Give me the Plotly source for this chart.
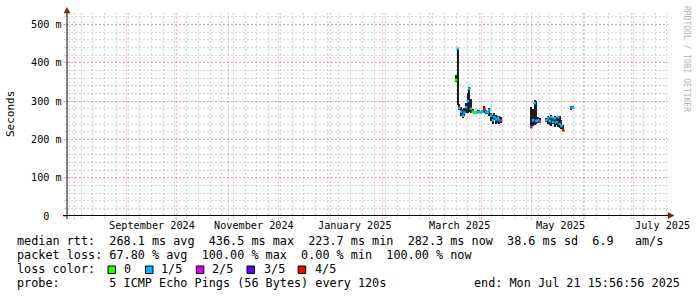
import plotly.graph_objects as go
import pandas as pd

# ---------------- data ----------------
dates = [
    "2025-03-17", "2025-03-18", "2025-03-19", "2025-03-20", "2025-03-21", "2025-03-22",
    "2025-03-23", "2025-03-24", "2025-03-25", "2025-03-26", "2025-03-27", "2025-03-28",
    "2025-03-29", "2025-03-30", "2025-03-31", "2025-04-01", "2025-04-02", "2025-04-03",
    "2025-04-04", "2025-04-05", "2025-04-06", "2025-04-07", "2025-04-08", "2025-04-09",
    "2025-04-10", "2025-04-11", "2025-04-12", "2025-04-13",
    "2025-05-01", "2025-05-02", "2025-05-03", "2025-05-04", "2025-05-05", "2025-05-06",
    "2025-05-10", "2025-05-11", "2025-05-12", "2025-05-13", "2025-05-14", "2025-05-15",
    "2025-05-16", "2025-05-17", "2025-05-18", "2025-05-19", "2025-05-20",
    "2025-05-25", "2025-05-26",
]
rtt_low_ms = [
    350, 290, 276, 262, 255, 262, 268, 270, 272, 268, 268, 268,
    268, 268, 268, 268, 268, 268, 266, 266, 262, 248, 240, 250,
    240, 244, 240, 242,
    230, 235, 237, 240, 242, 243,
    245, 240, 238, 235, 240, 232, 238, 232, 230, 228, 222,
    278, 279,
]
rtt_median_ms = [
    355, 436.5, 282, 272, 262, 270, 284, 300, 332, 280, 272, 270,
    270, 271, 272, 271, 272, 280, 272, 270, 276, 262, 250, 258,
    252, 256, 250, 250,
    232, 250, 295, 248, 250, 247,
    250, 255, 248, 258, 245, 255, 245, 258, 240, 235, 223.7,
    283, 282.3,
]
rtt_high_ms = [
    368, 437, 292, 285, 280, 282, 295, 322, 336, 305, 280, 273,
    273, 276, 277, 275, 278, 286, 276, 273, 282, 270, 264, 268,
    265, 262, 262, 258,
    285, 280, 304, 300, 258, 255,
    255, 262, 258, 265, 255, 262, 258, 262, 262, 250, 238,
    287, 286,
]
loss_count = [
    0, 1, 1, 1, 1, 1, 1, 1, 1, 1, 0, 0,
    0, 1, 1, 1, 1, 4, 1, 1, 1, 1, 1, 1,
    1, 1, 1, 2,
    2, 1, 1, 1, 1, 2,
    1, 1, 1, 1, 1, 1, 1, 1, 1, 1, 4,
    1, 1,
]
loss_labels = ["0", "1/5", "2/5", "3/5", "4/5"]
loss_colors = ["#26ff00", "#00b8ff", "#dd00ff", "#5e00ff", "#ff0000"]

y_tick_vals = [0, 0.1, 0.2, 0.3, 0.4, 0.5]
y_tick_text = ["  0", "100 m", "200 m", "300 m", "400 m", "500 m"]

x_label_text = ["September 2024", "November 2024", "January 2025", "March 2025", "May 2025", "July 2025"]
x_label_pos = ["2024-09-16 10:00", "2024-11-16 05:00", "2025-01-15 16:00",
               "2025-03-18 22:00", "2025-05-18 07:00", "2025-07-18 03:00"]

x_start = "2024-07-27 13:00:00"
x_end = "2025-07-21 15:56:56"
month_starts = [d.strftime("%Y-%m-%d") for d in pd.date_range("2024-08-01", "2025-07-01", freq="MS")]
week_starts = [d.strftime("%Y-%m-%d") for d in pd.date_range("2024-07-29", "2025-07-21", freq="7D")]

legend_line1 = "median rtt:  268.1 ms avg  436.5 ms max  223.7 ms min  282.3 ms now  38.6 ms sd  6.9   am/s"
legend_line2 = "packet loss: 67.80 % avg  100.00 % max  0.00 % min  100.00 % now"
legend_line3 = "loss color:"
legend_line4a = "probe:       5 ICMP Echo Pings (56 Bytes) every 120s"
legend_line4b = "end: Mon Jul 21 15:56:56 2025"

# ---------------- geometry helpers ----------------
W, H = 697, 297
ML, MR, MT, MB = 67, 29, 13, 81
PW, PH = W - ML - MR, H - MT - MB


def px(x):
    return (x - ML) / PW


def py(y):
    return (H - MB - y) / PH


def nb(s):
    return s.replace(" ", "\u00a0")


MONO = "DejaVu Sans Mono"
RED_GRID = "rgba(225,90,90,0.42)"
GRAY_GRID = "rgba(150,150,150,0.40)"
GDASH = "2px,2px"

fig = go.Figure()

# smoke (min..max spread)
fig.add_trace(go.Bar(
    x=dates,
    base=[l / 1000 for l in rtt_low_ms],
    y=[(h - l) / 1000 for h, l in zip(rtt_high_ms, rtt_low_ms)],
    width=86400000 * 0.8,
    marker=dict(color="#1c1c1c", line=dict(width=0)),
    hoverinfo="skip",
))

# median, coloured by loss
fig.add_trace(go.Scatter(
    x=dates,
    y=[m / 1000 for m in rtt_median_ms],
    mode="markers",
    marker=dict(symbol="square", size=2.6, color=[loss_colors[c] for c in loss_count], line=dict(width=0)),
    hoverinfo="skip",
))

annotations = []
# y tick labels
for v, t in zip(y_tick_vals, y_tick_text):
    annotations.append(dict(x=px(29), xref="paper", y=v, yref="y", text=nb(t), showarrow=False,
                            xanchor="left", yanchor="middle", font=dict(family=MONO, size=10.2, color="#000")))
# x labels
for d, t in zip(x_label_pos, x_label_text):
    annotations.append(dict(x=d, xref="x", y=py(225), yref="paper", text=nb(t), showarrow=False,
                            xanchor="center", yanchor="middle", font=dict(family=MONO, size=10.2, color="#000")))
# axis title
annotations.append(dict(x=px(11), xref="paper", y=py(114), yref="paper", text="Seconds", textangle=-90,
                        showarrow=False, xanchor="center", yanchor="middle",
                        font=dict(family=MONO, size=11, color="#000")))
# watermark
annotations.append(dict(x=px(686), xref="paper", y=py(59), yref="paper", text=nb("RRDTOOL / TOBI OETIKER"),
                        textangle=90, showarrow=False, xanchor="center", yanchor="middle",
                        font=dict(family=MONO, size=8, color="#b4b4b4")))
# legend lines
LF = dict(family=MONO, size=11.8, color="#000")
for txt, x0, y0 in [(legend_line1, 15, 241), (legend_line2, 15, 255), (legend_line3, 15, 269),
                    (legend_line4a, 15, 283)]:
    annotations.append(dict(x=px(x0), xref="paper", y=py(y0), yref="paper", text=nb(txt), showarrow=False,
                            xanchor="left", yanchor="middle", font=LF))
annotations.append(dict(x=px(682), xref="paper", y=py(283), yref="paper", text=nb(legend_line4b),
                        showarrow=False, xanchor="right", yanchor="middle", font=LF))
box_x = [108, 145.5, 196.3, 247, 298.2]
lab_x = [122.3, 159.2, 210.4, 261.6, 312.8]
shapes = []
for bx, lx, lab, col in zip(box_x, lab_x, loss_labels, loss_colors):
    shapes.append(dict(type="rect", xref="paper", yref="paper", x0=px(bx), x1=px(bx + 7.5),
                       y0=py(273.5), y1=py(266), fillcolor=col, line=dict(color="#000", width=1)))
    annotations.append(dict(x=px(lx), xref="paper", y=py(269), yref="paper", text=lab, showarrow=False,
                            xanchor="left", yanchor="middle", font=LF))

# axis lines and arrows
shapes.append(dict(type="line", xref="paper", yref="paper", x0=px(63), x1=px(669), y0=py(215.5), y1=py(215.5),
                   line=dict(color="#000", width=1)))
shapes.append(dict(type="line", xref="paper", yref="paper", x0=px(67), x1=px(67), y0=py(219), y1=py(11),
                   line=dict(color="#000", width=1)))
shapes.append(dict(type="path", xref="paper", yref="paper",
                   path=f"M {px(668)} {py(212.5)} L {px(674)} {py(215.5)} L {px(668)} {py(218.5)} Z",
                   fillcolor="#7f1f1f", line=dict(color="#7f1f1f", width=0.5)))
shapes.append(dict(type="path", xref="paper", yref="paper",
                   path=f"M {px(64)} {py(13)} L {px(67)} {py(7.5)} L {px(70)} {py(13)} Z",
                   fillcolor="#7f1f1f", line=dict(color="#7f1f1f", width=0.5)))

fig.update_layout(
    width=W, height=H,
    margin=dict(l=ML, r=MR, t=MT, b=MB, pad=0),
    paper_bgcolor="#ffffff", plot_bgcolor="#ffffff",
    showlegend=False, bargap=0,
    annotations=annotations, shapes=shapes,
    xaxis=dict(
        type="date", range=[x_start, x_end], tickmode="array", tickvals=month_starts,
        showticklabels=False, showgrid=True, gridcolor=RED_GRID, griddash=GDASH, gridwidth=1,
        ticks="outside", ticklen=3, tickcolor=RED_GRID, zeroline=False, showline=False,
        minor=dict(tickmode="array", tickvals=week_starts, showgrid=True, gridcolor=GRAY_GRID,
                   griddash=GDASH, gridwidth=1, ticks="outside", ticklen=2, tickcolor=GRAY_GRID),
        fixedrange=True,
    ),
    yaxis=dict(
        range=[0, 0.53], tickmode="array", tickvals=y_tick_vals, showticklabels=False,
        showgrid=True, gridcolor=RED_GRID, griddash=GDASH, gridwidth=1,
        ticks="outside", ticklen=3, tickcolor=RED_GRID, zeroline=False, showline=False,
        minor=dict(tickmode="array", tickvals=[i * 0.02 for i in range(27)], showgrid=True,
                   gridcolor=GRAY_GRID, griddash=GDASH, gridwidth=1, ticks="outside", ticklen=2,
                   tickcolor=GRAY_GRID),
        fixedrange=True,
    ),
)

fig.write_html("out.html")
